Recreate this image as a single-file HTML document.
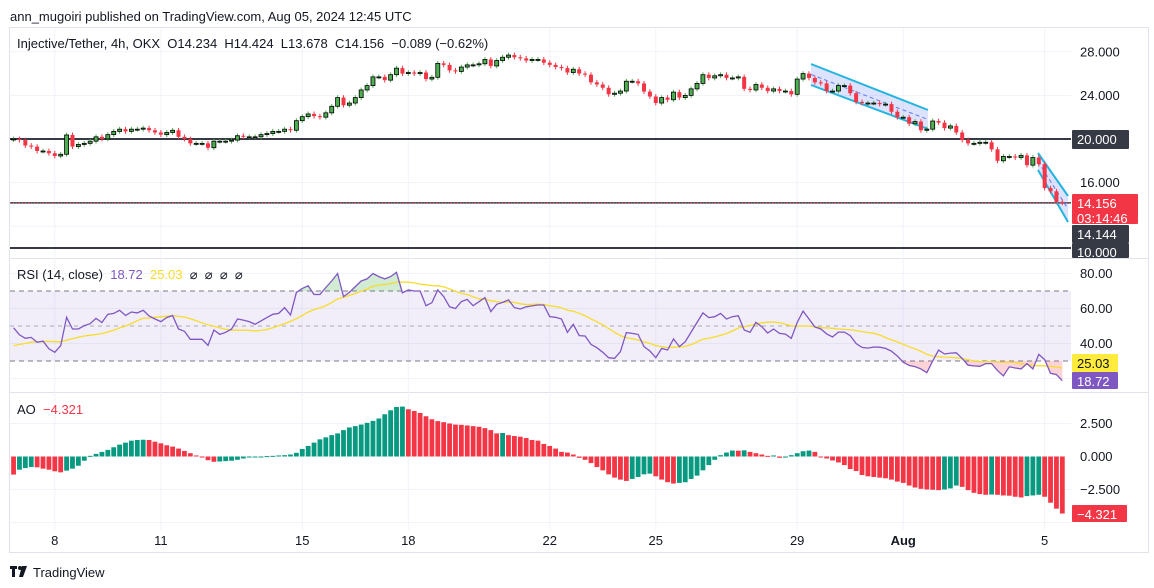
<!DOCTYPE html>
<html><head><meta charset="utf-8"><style>
html,body{margin:0;padding:0;background:#fff;}
svg{display:block;font-family:"Liberation Sans",sans-serif;}
</style></head><body>
<svg id="c" width="1154" height="588" viewBox="0 0 1154 588" xmlns="http://www.w3.org/2000/svg">
<text x="10" y="21" font-size="13" fill="#131722">ann_mugoiri published on TradingView.com, Aug 05, 2024 12:45 UTC</text>
<rect x="9.5" y="27.5" width="1139" height="525" fill="none" stroke="#e0e3eb"/>
<line x1="10" y1="258.5" x2="1148" y2="258.5" stroke="#e0e3eb"/>
<line x1="10" y1="392.5" x2="1148" y2="392.5" stroke="#e0e3eb"/>
<g id="grid"></g>
<g id="price"></g>
<g id="rsi"></g>
<g id="ao"></g>
<g id="axes"></g>
<text x="17" y="48" font-size="13" fill="#131722" xml:space="preserve">Injective/Tether, 4h, OKX  O14.234  H14.424  L13.678  C14.156  −0.089 (−0.62%)</text>
<text x="17" y="279" font-size="13" xml:space="preserve"><tspan fill="#131722">RSI (14, close)</tspan><tspan fill="#7e57c2">  18.72</tspan><tspan fill="#f7dc2a">  25.03</tspan><tspan fill="#131722">  ⌀  ⌀  ⌀  ⌀</tspan></text>
<text x="17" y="414" font-size="13" xml:space="preserve"><tspan fill="#131722">AO</tspan><tspan fill="#f23645">  −4.321</tspan></text>
<g><rect x="10" y="566" width="7" height="3" fill="#131722"/><rect x="12" y="566" width="3" height="11" fill="#131722"/><circle cx="20" cy="568" r="2" fill="#131722"/><path d="M22 566 L27 566 L23 577 L19 577 Z" fill="#131722"/><text x="33" y="577" font-size="13" fill="#131722">TradingView</text></g>
</svg>
<script>
const closes=[20.0,19.9,19.4,19.3,18.9,18.9,18.69,18.44,18.6,20.37,19.3,19.5,19.6,19.8,20.2,20.0,20.4,20.7,20.9,20.7,20.9,20.9,21.0,20.8,20.6,20.4,20.6,20.8,20.2,20.0,19.6,19.6,19.6,19.2,19.8,19.8,19.8,19.9,20.3,20.2,20.2,20.2,20.4,20.5,20.7,20.7,20.9,20.8,21.68,22.05,22.3,22.1,22.0,22.4,23.0,23.8,23.1,23.3,23.8,24.5,24.9,25.7,25.7,25.4,25.9,26.5,26.0,26.1,26.0,26.1,25.5,25.66,26.94,26.8,26.3,26.2,26.6,26.8,26.8,26.9,27.3,26.7,27.2,27.5,27.7,27.5,27.4,27.2,27.3,27.3,27.0,26.8,26.6,26.5,26.1,26.4,26.0,25.9,25.2,25.0,24.7,24.1,24.2,24.4,25.3,25.3,25.1,24.35,23.9,23.3,23.8,23.6,24.3,23.8,24.0,24.6,25.1,25.9,25.6,25.8,25.9,25.6,25.6,25.7,24.6,24.5,25.0,24.7,24.4,24.6,24.4,24.4,24.1,25.5,26.0,25.6,25.2,25.1,24.4,24.4,24.9,24.9,24.2,23.4,23.3,23.3,23.3,23.2,23.2,22.5,22.0,22.0,21.4,21.6,20.8,20.9,21.65,21.5,21.0,21.2,20.6,19.9,19.6,19.6,19.7,19.7,19.05,18.0,18.4,18.4,18.3,18.5,17.6,18.3,17.7,15.5,15.2,14.234,14.156];
const firstOpen=19.95;
const rsiVals=[49,45,43,43.5,40.7,41.4,37,35,38.8,55,48.3,48.3,50.2,51.3,54.4,52,56.7,57.2,59,56,58,57.5,59,55.7,54,52.5,54.8,56,48.3,47,42.4,42.4,42.4,39,47.7,45.2,46.4,48.3,54,53.4,52.5,51,52.9,54.8,56.7,57.2,60.5,56.3,69.2,71.5,73,68,68,72,75.7,80,66.8,69.2,72.5,75.7,76.9,80,78.2,76.9,78.2,80.7,69,70.6,70,70,61.6,63.3,70.6,66.8,61,60,63.9,65.2,61.6,63.9,66.2,58.2,62.4,63.5,64.9,60.5,59.7,61,61.5,62,62,55.3,55,54,46.4,51,44.5,44.3,39.5,37.6,35,31.9,31.5,35.3,46.2,45.8,45.2,38.2,35.7,31.9,37.2,36.3,42.6,38.2,41,46.5,52,57.5,54.8,55.3,57.2,54,55.3,55.9,47.7,46.4,52.1,49.6,46,48.3,45.8,45.4,43,52,58.5,54,49.5,48.3,45.5,43.7,46.5,46.5,44.5,40,37.8,37.4,38,37.9,37.2,35.6,32.8,29.3,27.5,26.8,25.5,23.3,30,36.2,34,34.5,34.7,31.5,27.6,27.2,27,28.5,28.5,24.5,21.5,26.7,26,25.5,28.5,25.5,33.8,30.8,23,22.2,18.72];
const priorRsi=[34,36,33,38,40,35,37,39,42,38,36,40,45];
const aoVals=[-1.37,-1.0,-0.88,-0.8,-0.82,-0.92,-1.0,-1.12,-1.2,-1.07,-0.92,-0.7,-0.32,0.05,0.2,0.35,0.5,0.7,0.9,1.05,1.2,1.25,1.27,1.25,1.12,1.0,0.85,0.75,0.6,0.42,0.25,0.08,-0.08,-0.28,-0.4,-0.38,-0.35,-0.32,-0.25,-0.15,-0.08,-0.03,0.0,0.03,0.05,0.08,0.1,0.15,0.28,0.57,0.8,1.05,1.3,1.45,1.62,1.75,2.0,2.2,2.3,2.42,2.55,2.7,2.88,3.2,3.5,3.75,3.78,3.58,3.45,3.3,3.05,2.82,2.68,2.6,2.5,2.42,2.4,2.35,2.3,2.25,2.15,2.0,1.75,1.78,1.62,1.55,1.5,1.4,1.25,1.2,0.95,0.8,0.6,0.35,0.3,0.15,-0.1,-0.25,-0.5,-0.8,-1.05,-1.35,-1.6,-1.75,-1.85,-1.7,-1.55,-1.35,-1.3,-1.5,-1.75,-1.95,-2.05,-2.0,-1.95,-1.7,-1.45,-1.05,-0.65,-0.25,0.1,0.3,0.45,0.44,0.47,0.35,0.25,0.15,0.05,0.08,-0.1,-0.08,0.1,0.25,0.4,0.45,0.35,-0.05,-0.15,-0.3,-0.45,-0.65,-0.95,-1.1,-1.4,-1.5,-1.55,-1.6,-1.65,-1.75,-1.9,-2.0,-2.2,-2.35,-2.45,-2.5,-2.52,-2.55,-2.5,-2.42,-2.2,-2.3,-2.55,-2.75,-2.85,-2.9,-2.88,-2.9,-2.95,-2.97,-3.05,-3.1,-3.0,-2.95,-2.9,-3.05,-3.5,-3.95,-4.321];
const dayLabels=["8","11","15","18","22","25","29","Aug","5"];
const dayIdx=[7,25,49,67,91,109,133,151,175];
const priceTicks=[28,24,16];
const rsiTicks=[80,60,40];
const aoTicks=[2.5,0,-2.5];
const aoTickLabels=["2.500","0.000","−2.500"];

const NS="http://www.w3.org/2000/svg";
function mk(parent,tag,attrs){const e=document.createElementNS(NS,tag);for(const k in attrs)e.setAttribute(k,attrs[k]);parent.appendChild(e);return e;}
const xI=i=>54.8+(i-7)*5.892;
const yP=p=>139-(p-20)*10.9;
const yR=v=>326-(v-50)*1.75;
const yA=v=>456.5-v*13.2;
const PL=10,PR=1071;
const grid=document.getElementById('grid');
const gP=document.getElementById('price'),gR=document.getElementById('rsi'),gA=document.getElementById('ao'),gX=document.getElementById('axes');

// vertical grid
dayIdx.forEach((d,k)=>{
  const l=mk(grid,'line',{x1:xI(d),x2:xI(d),y1:28,y2:530,stroke:'#f0f3fa'});
  
  
  const t=mk(gX,'text',{x:xI(d),y:545,'font-size':13,fill:'#131722','text-anchor':'middle','font-weight':dayLabels[k]==='Aug'?'bold':'normal'});
  t.textContent=dayLabels[k];
  
  
});
[28,24,16,12].forEach(p=>{const l=mk(grid,'line',{x1:PL,x2:PR,y1:yP(p),y2:yP(p),stroke:'#f0f3fa'});});
[80,60,40,20].forEach(v=>{const l=mk(grid,'line',{x1:PL,x2:PR,y1:yR(v),y2:yR(v),stroke:'#f0f3fa'});});
[2.5,-2.5,-5].forEach(v=>{const l=mk(grid,'line',{x1:PL,x2:PR,y1:yA(v),y2:yA(v),stroke:'#f0f3fa'});});

// horizontal level lines
[20,10].forEach(p=>{const l=mk(gP,'line',{x1:PL,x2:PR,y1:yP(p),y2:yP(p),stroke:'#363a45','stroke-width':2});});
{const l=mk(gP,'line',{x1:PL,x2:PR,y1:yP(14.144),y2:yP(14.144),stroke:'#363a45','stroke-width':1.5});}
{const l=mk(gP,'line',{x1:PL,x2:PR,y1:yP(14.156),y2:yP(14.156),stroke:'#f23645','stroke-dasharray':'1 2'});}

// channels
function channel(x1,t1,b1,x2,t2,b2,name){
  const g=mk(gP,'g',{});
  
  
  mk(g,'polygon',{points:`${x1},${t1} ${x2},${t2} ${x2},${b2} ${x1},${b1}`,fill:'rgba(98,128,255,0.22)'});
  mk(g,'line',{x1:x1,y1:(t1+b1)/2,x2:x2,y2:(t2+b2)/2,stroke:'#5b7cf0','stroke-width':1,'stroke-dasharray':'4 3'});
  mk(g,'line',{x1:x1,y1:t1,x2:x2,y2:t2,stroke:'#22b5df','stroke-width':2});
  mk(g,'line',{x1:x1,y1:b1,x2:x2,y2:b2,stroke:'#22b5df','stroke-width':2});
}
channel(811,64,85,928,110,129,'falling-channel-1');
channel(1038,153,170,1068,196,222,'falling-channel-2');

// candles
closes.forEach((c,i)=>{
  const o=i===0?firstOpen:closes[i-1];
  const up=c>=o;
  const x=xI(i);
  const hi=Math.max(o,c)+0.22,lo=Math.min(o,c)-0.22;
  const col=up?'#4caf50':'#f23645';
  const g=mk(gP,'g',{});
  
  
  mk(g,'line',{x1:x,x2:x,y1:yP(hi),y2:yP(lo),stroke:col,'stroke-width':1});
  const top=yP(Math.max(o,c)),h=Math.max(1,yP(Math.min(o,c))-top);
  mk(g,'rect',{x:x-2,y:top,width:4,height:h,fill:col,stroke:up?'#000':'none','stroke-width':up?0.8:0});
});

// RSI
mk(gR,'rect',{x:PL,y:yR(70),width:PR-PL,height:yR(30)-yR(70),fill:'rgba(126,87,194,0.1)'});
[70,50,30].forEach(v=>{const l=mk(gR,'line',{x1:PL,x2:PR,y1:yR(v),y2:yR(v),stroke:'#787b86','stroke-dasharray':v===50?'4 4':'5 4','stroke-opacity':v===50?0.6:1});});
const defs=mk(gR,'defs',{});
const c1=mk(defs,'clipPath',{id:'above70'});mk(c1,'rect',{x:0,y:0,width:1154,height:yR(70)});
const c2=mk(defs,'clipPath',{id:'below30'});mk(c2,'rect',{x:0,y:yR(30),width:1154,height:100});
const pts=rsiVals.map((v,i)=>`${xI(i).toFixed(1)},${yR(v).toFixed(1)}`);
const x0=xI(0),xN=xI(rsiVals.length-1);
{const p=mk(gR,'polygon',{points:`${x0},${yR(70)} ${pts.join(' ')} ${xN},${yR(70)}`,fill:'rgba(76,175,80,0.25)','clip-path':'url(#above70)'});}
{const p=mk(gR,'polygon',{points:`${x0},${yR(30)} ${pts.join(' ')} ${xN},${yR(30)}`,fill:'rgba(242,54,69,0.22)','clip-path':'url(#below30)'});}
const all=priorRsi.concat(rsiVals);
const ma=rsiVals.map((v,i)=>{let s=0;for(let k=0;k<14;k++)s+=all[i+priorRsi.length-k];return s/14;});
{const l=mk(gR,'polyline',{points:ma.map((v,i)=>`${xI(i).toFixed(1)},${yR(v).toFixed(1)}`).join(' '),fill:'none',stroke:'#f7dc2a','stroke-width':1.3});}
{const l=mk(gR,'polyline',{points:pts.join(' '),fill:'none',stroke:'#7e57c2','stroke-width':1.3});}

// AO
aoVals.forEach((v,i)=>{
  const up=i===0?false:v>aoVals[i-1];
  const y1=yA(Math.max(v,0)),y2=yA(Math.min(v,0));
  const r=mk(gA,'rect',{x:xI(i)-2.4,y:y1,width:4.8,height:Math.max(1,y2-y1),fill:up?'#089981':'#f23645'});
  
  
});

// axis labels
function lbl(y,txt,name){const t=mk(gX,'text',{x:1080,y:y+4.5,'font-size':13,fill:'#131722'});t.textContent=txt;}
priceTicks.forEach(p=>lbl(yP(p),p.toFixed(3),'price-axis-label'));
rsiTicks.forEach(v=>lbl(yR(v),v.toFixed(2),'rsi-axis-label'));
aoTicks.forEach((v,k)=>lbl(yA(v),aoTickLabels[k],'ao-axis-label'));
function box(y,h,bg,fg,lines,name,w){
  const g=mk(gX,'g',{});
  
  
  mk(g,'rect',{x:1072,y:y,width:w||57,height:h,fill:bg,rx:1});
  lines.forEach((t,k)=>{const e=mk(g,'text',{x:1077,y:y+14+k*15,'font-size':13,fill:fg});e.textContent=t;});
}
box(130,19,'#363a45','#fff',['20.000'],'level-20-label');
box(243,15,'#363a45','#fff',['10.000'],'level-10-label');
box(225,18,'#363a45','#fff',['14.144'],'level-14144-label');
box(194,30,'#f23645','#fff',['14.156','03:14:46'],'last-price-label',66);
box(354,18,'#ffeb3b','#131722',['25.03'],'rsi-ma-value-label',46);
box(372,17,'#7e57c2','#fff',['18.72'],'rsi-value-label',46);
box(505,17,'#f23645','#fff',['−4.321'],'ao-value-label',55);
</script>
</body></html>
